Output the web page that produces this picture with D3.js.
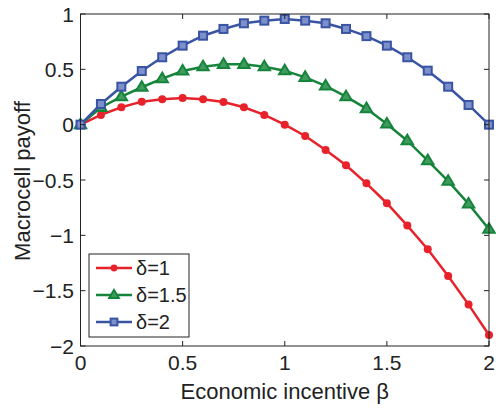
<!DOCTYPE html>
<html><head><meta charset="utf-8">
<script src="https://cdn.jsdelivr.net/npm/d3@7"></script>
<style>body{margin:0;background:#fff}svg{display:block}text{font-family:"Liberation Sans",Arial,sans-serif;fill:#222}</style>
</head><body><svg id="c" width="496" height="408"></svg>
<script>
const beta = [0,0.1,0.2,0.3,0.4,0.5,0.6,0.7,0.8,0.9,1.0,1.1,1.2,1.3,1.4,1.5,1.6,1.7,1.8,1.9,2.0];
const delta1 = [0,0.088,0.157,0.208,0.229,0.241,0.229,0.205,0.157,0.088,0.0,-0.102,-0.229,-0.367,-0.53,-0.71,-0.912,-1.126,-1.367,-1.626,-1.90];
const delta15 = [0,0.155,0.253,0.338,0.416,0.485,0.524,0.545,0.545,0.524,0.488,0.428,0.35,0.253,0.145,0.006,-0.145,-0.325,-0.511,-0.716,-0.945];
const delta2 = [0,0.187,0.343,0.485,0.609,0.714,0.804,0.865,0.916,0.94,0.955,0.94,0.916,0.865,0.80,0.714,0.609,0.488,0.343,0.178,0.0];
const seriesNames = ["δ=1","δ=1.5","δ=2"];
const xTicks = [0,0.5,1,1.5,2];
const yTicks = [-2,-1.5,-1,-0.5,0,0.5,1];

const svg = d3.select("#c");
const L=80.5,R=489,T=14,B=346;
const x = d3.scaleLinear().domain([0,2]).range([L,R]);
const y = d3.scaleLinear().domain([-2,1]).range([B,T]);
const fmt = d => d===0?"0":String(d).replace("-","\u2212");

const series = [
  {name:seriesNames[0], vals:delta1, color:"#e8222b", marker:"circle"},
  {name:seriesNames[1], vals:delta15, color:"#17843c", marker:"tri"},
  {name:seriesNames[2], vals:delta2, color:"#3a54a4", marker:"sq"}
];

const line = d3.line().x((d,i)=>x(beta[i])).y(d=>y(d));

function marker(g, s, cx, cy, scale){
  if(s.marker==="circle"){
    g.append("circle").attr("cx",cx).attr("cy",cy).attr("r",4*scale).attr("fill",s.color);
  } else if(s.marker==="tri"){
    const r=6*scale;
    g.append("path").attr("d",`M${cx},${cy-r}L${cx+r*0.95},${cy+r*0.6}L${cx-r*0.95},${cy+r*0.6}Z`)
      .attr("fill","#3f9c5e").attr("stroke",s.color).attr("stroke-width",2);
  } else {
    const h=4*scale;
    g.append("rect").attr("x",cx-h).attr("y",cy-h).attr("width",2*h).attr("height",2*h)
      .attr("fill","#7d90cc").attr("stroke",s.color).attr("stroke-width",2);
  }
}

const plot = svg.append("g");
series.forEach(s=>{
  plot.append("path").datum(s.vals).attr("d",line).attr("fill","none")
    .attr("stroke",s.color).attr("stroke-width",2.5);
  const mg = plot.append("g");
  s.vals.forEach((v,i)=>marker(mg,s,x(beta[i]),y(v),1));
});

const ax = svg.append("g").attr("stroke","#222").attr("stroke-width",1);
ax.append("rect").attr("x",L).attr("y",T).attr("width",R-L).attr("height",B-T).attr("fill","none");
xTicks.forEach(t=>{
  ax.append("line").attr("x1",x(t)).attr("x2",x(t)).attr("y1",B).attr("y2",B-5);
  ax.append("line").attr("x1",x(t)).attr("x2",x(t)).attr("y1",T).attr("y2",T+5);
});
yTicks.forEach(t=>{
  ax.append("line").attr("x1",L).attr("x2",L+5).attr("y1",y(t)).attr("y2",y(t));
  ax.append("line").attr("x1",R).attr("x2",R-5).attr("y1",y(t)).attr("y2",y(t));
});
xTicks.forEach(t=>{
  svg.append("text").attr("x",x(t)).attr("y",370).attr("text-anchor","middle")
    .attr("font-size",21).text(fmt(t));
});
yTicks.forEach(t=>{
  svg.append("text").attr("x",74).attr("y",y(t)+7.5).attr("text-anchor","end")
    .attr("font-size",21).text(fmt(t));
});
svg.append("text").attr("x",(L+R)/2).attr("y",399).attr("text-anchor","middle")
  .attr("font-size",22).text("Economic incentive β");
svg.append("text").attr("transform",`translate(30,181) rotate(-90)`)
  .attr("text-anchor","middle").attr("font-size",22).text("Macrocell payoff");

const lg = svg.append("g");
lg.append("rect").attr("x",89).attr("y",254).attr("width",100).attr("height",83)
  .attr("fill","#fff").attr("stroke","#222").attr("stroke-width",1);
series.forEach((s,i)=>{
  const yy = 268+i*27;
  lg.append("line").attr("x1",96).attr("x2",132).attr("y1",yy).attr("y2",yy)
    .attr("stroke",s.color).attr("stroke-width",2.5);
  marker(lg,s,114,yy,0.85);
  lg.append("text").attr("x",136).attr("y",yy+7).attr("font-size",20).text(s.name);
});
</script></body></html>
